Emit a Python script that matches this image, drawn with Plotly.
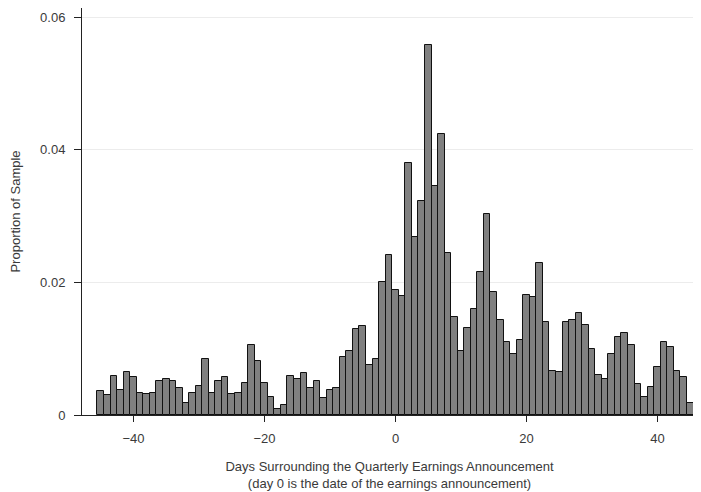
import plotly.graph_objects as go

days = list(range(-45, 46))
proportion = [
    0.0036, 0.0030, 0.0059, 0.0038, 0.0065, 0.0057, 0.0033, 0.0031, 0.0033, 0.0052,  # -45..-36
    0.0054, 0.0052, 0.0041, 0.0018, 0.0033, 0.0044, 0.0085, 0.0033, 0.0052, 0.0057,  # -35..-26
    0.0031, 0.0033, 0.0049, 0.0106, 0.0082, 0.0049, 0.0027, 0.0009, 0.0015, 0.0059,  # -25..-16
    0.0054, 0.0064, 0.0041, 0.0052, 0.0025, 0.0038, 0.0041, 0.0088, 0.0096, 0.0130,  # -15..-6
    0.0135, 0.0075, 0.0085, 0.0200, 0.0242, 0.0188, 0.0180, 0.0380, 0.0268, 0.0323,  # -5..4
    0.0558, 0.0346, 0.0424, 0.0245, 0.0148, 0.0097, 0.0131, 0.0160, 0.0215, 0.0303,  # 5..14
    0.0186, 0.0144, 0.0110, 0.0092, 0.0113, 0.0181, 0.0178, 0.0230, 0.0141, 0.0066,  # 15..24
    0.0065, 0.0141, 0.0144, 0.0154, 0.0136, 0.0099, 0.0060, 0.0055, 0.0092, 0.0118,  # 25..34
    0.0123, 0.0105, 0.0047, 0.0027, 0.0042, 0.0073, 0.0110, 0.0103, 0.0066, 0.0057,  # 35..44
    0.0018,                                                                          # 45
]

x_ticks = [-40, -20, 0, 20, 40]
y_ticks = [0, 0.02, 0.04, 0.06]
y_tick_labels = ["0", "0.02", "0.04", "0.06"]

x_title = "Days Surrounding the Quarterly Earnings Announcement<br>(day 0 is the date of the earnings announcement)"
y_title = "Proportion of Sample"

font_family = "Liberation Sans, Arial, Helvetica, sans-serif"
text_color = "#3a3a3a"

fig = go.Figure(
    go.Bar(
        x=days,
        y=proportion,
        marker=dict(color="#808080", line=dict(color="#111111", width=1)),
        width=1.0,
        hoverinfo="x+y",
    )
)

# The page body has an 8px default margin, so the figure is sized to fit the 701x492 window.
fig.update_layout(
    width=693,
    height=484,
    margin=dict(l=74, r=4, t=0, b=77),
    paper_bgcolor="white",
    plot_bgcolor="white",
    bargap=0,
    showlegend=False,
    font=dict(family=font_family, size=13, color=text_color),
)

fig.update_xaxes(
    range=[-47.86, 46.03],
    tickmode="array",
    tickvals=x_ticks,
    ticks="outside",
    ticklen=6,
    tickwidth=1,
    tickcolor="#222222",
    ticklabelstandoff=5,
    showline=True,
    linecolor="#222222",
    linewidth=1,
    showgrid=False,
    zeroline=False,
    tickfont=dict(size=13, color=text_color),
    title=dict(text=x_title, font=dict(size=13, color=text_color), standoff=17),
)

fig.update_yaxes(
    range=[0, 0.06139],
    tickmode="array",
    tickvals=y_ticks,
    ticktext=y_tick_labels,
    ticks="outside",
    ticklen=7,
    tickwidth=1,
    tickcolor="#222222",
    ticklabelstandoff=6,
    showline=True,
    linecolor="#222222",
    linewidth=1,
    showgrid=True,
    gridcolor="#ececec",
    gridwidth=1,
    zeroline=False,
    tickfont=dict(size=13, color=text_color),
    title=dict(text=y_title, font=dict(size=13, color=text_color), standoff=22),
)

fig.write_html("out.html")
